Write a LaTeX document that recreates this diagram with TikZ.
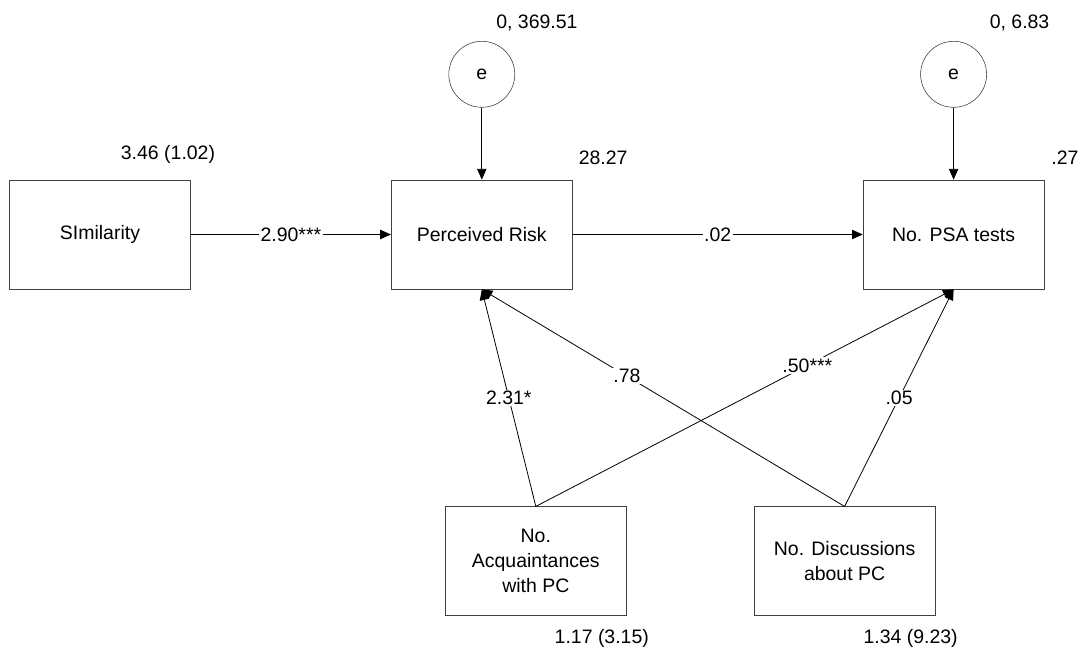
\documentclass[tikz,border=0pt]{standalone}
\usepackage{fontspec}
\setmainfont{Liberation Sans}
\usetikzlibrary{arrows.meta,positioning}
\tikzset{
	err/.style={
		circle,
		draw=black!80
	}
}

\begin{document}
\begin{tikzpicture}[font=\fontsize{14.6pt}{18.75pt}\selectfont]
			\tikzstyle{box}=[rectangle, draw=black!75, line width=0.6pt, minimum width=135.75pt, minimum height=81.75pt, align=center]
			\tikzstyle{connect}=[line width=0.6pt, -{Triangle[length=8pt,width=7pt]}]
			\tikzstyle{val}=[inner sep=0pt]
			\tikzstyle{coef}=[fill=white, inner sep=1pt]
			\useasboundingbox (0,0) rectangle (812.25pt,-486pt);
			\node[box] (sim) at (75pt,-175.875pt) {SImilarity};
			\node[box] (risk) [right=150pt of sim] {Perceived Risk};
			\node[box] (psa) [right=217.5pt of risk] {No. PSA tests};
			\node[box] (acq) [below=162.75pt of risk, xshift=40.5pt] {No.\\Acquaintances\\with PC};
			\node[box] (disc) [right=95.25pt of acq] {No. Discussions\\about PC};
			\node[err, minimum size=49.5pt] (e1) [above=54pt of risk] {e};
			\node[err, minimum size=49.5pt] (e2) [above=54pt of psa] {e};
			
			% variances and intercepts
			\node[val, anchor=east, xshift=72pt, yshift=38.25pt] (e1v) at (e1) {0, 369.51};
			\node[val, anchor=east, xshift=72pt, yshift=38.25pt] (e2v) at (e2) {0, 6.83};
			\node[val, xshift=51pt, yshift=18.75pt] (simv) at (sim.north) {3.46 (1.02)};
			\node[val, xshift=91pt, yshift=16.5pt] (riskv) at (risk.north) {28.27};
			\node[val, xshift=83.5pt, yshift=16.5pt] (psav) at (psa.north) {.27};
			\node[val, xshift=49.5pt, yshift=-16.5pt] (acqv) at (acq.south) {1.17 (3.15)};
			\node[val, xshift=49.5pt, yshift=-16.5pt] (discv) at (disc.south) {1.34 (9.23)};
			
			\draw [connect] (e1) -- (risk);
			\draw [connect] (e2) -- (psa);
			\draw [connect] (sim) -- (risk) node [coef, midway] {2.90***};
			\draw [connect] (risk) -- (psa) node [coef, midway] {.02};
			\draw [connect] (acq.north) -- (risk.south) node [coef, midway] {2.31*};
			\draw [connect] (disc.north) -- (risk.south) node [coef, pos=0.6] {.78};
			\draw [connect] (acq.north) -- (psa.south) node [coef, pos=0.65] {.50***};
			\draw [connect] (disc.north) -- (psa.south) node [coef, midway] {.05};
			
\end{tikzpicture}
\end{document}
